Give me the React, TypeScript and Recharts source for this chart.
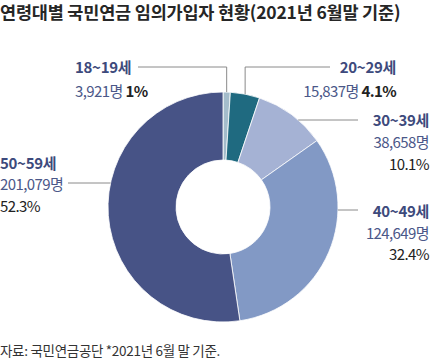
import React from 'react';
import { PieChart, Pie, Cell } from 'recharts';

// 연령대별 국민연금 임의가입자 (2021년 6월말)
const ageGroups = ['18~19세', '20~29세', '30~39세', '40~49세', '50~59세'];
const members = [3921, 15837, 38658, 124649, 201079];
const shares = ['1%', '4.1%', '10.1%', '32.4%', '52.3%'];

const COLORS = ['#a3bccb', '#1f6a80', '#a5b2d4', '#8299c5', '#475386'];
const FONT = '"Noto Sans CJK KR", "Noto Sans", sans-serif';
const RAD = Math.PI / 180;

const data = ageGroups.map((name, i) => ({ name, value: members[i], share: shares[i] }));

// label placement per slice (style only)
const LABELS = [
    { mode: 'elbow', lineY: 67, endX: 138, textX: 75, anchor: 'start', rows: [66, 90], inline: true },
    { mode: 'elbow', lineY: 67, endX: 330, textX: 396, anchor: 'end', rows: [66, 90], inline: true },
    { mode: 'flat', lineY: 120, endX: 358, textX: 429, anchor: 'end', rows: [119, 141, 163], inline: false },
    { mode: 'flat', lineY: 210, endX: 358, textX: 429, anchor: 'end', rows: [210, 232, 253], inline: false },
    { mode: 'flat', lineY: 183, endX: 68, textX: 0, anchor: 'start', rows: [162, 183, 205], inline: false },
];

const renderLabel = (props: any) => {
    const { cx, cy, midAngle, outerRadius, index, payload } = props;
    const cfg = LABELS[index];
    let pts: string;
    if (cfg.mode === 'elbow') {
        const x0 = cx + outerRadius * Math.cos(-midAngle * RAD);
        const y0 = cy + outerRadius * Math.sin(-midAngle * RAD);
        pts = `${x0},${y0} ${x0},${cfg.lineY} ${cfg.endX},${cfg.lineY}`;
    } else {
        const dy = cfg.lineY - cy;
        const dx = Math.sqrt(Math.max(outerRadius * outerRadius - dy * dy, 0));
        const x0 = cfg.endX > cx ? cx + dx : cx - dx;
        pts = `${x0},${cfg.lineY} ${cfg.endX},${cfg.lineY}`;
    }
    const count = `${members[index].toLocaleString('en-US')}명`;
    const common = {
        x: cfg.textX,
        textAnchor: cfg.anchor,
        dominantBaseline: 'central',
        fontFamily: FONT,
        fontSize: 15,
        letterSpacing: -0.6,
    } as any;
    return (
        <g key={`lbl-${index}`}>
            <polyline points={pts} fill="none" stroke="#8a8a8a" strokeWidth={1} />
            <text {...common} y={cfg.rows[0]} fill="#3d4a7c" fontWeight={700} letterSpacing={-0.3}>
                {payload.name}
            </text>
            {cfg.inline ? (
                <text {...common} y={cfg.rows[1]} fill="#4b5889">
                    {count} <tspan fill="#222" fontWeight={700}>{payload.share}</tspan>
                </text>
            ) : (
                <>
                    <text {...common} y={cfg.rows[1]} fill="#4b5889">{count}</text>
                    <text {...common} y={cfg.rows[2]} fill="#222">{payload.share}</text>
                </>
            )}
        </g>
    );
};

export default function App() {
    return (
        <div style={{ position: 'absolute', left: 0, top: 0, width: 430, height: 359, background: '#fff', fontFamily: FONT }}>
            <div style={{ position: 'absolute', left: 0, top: 1, fontSize: 17.5, fontWeight: 700, letterSpacing: -0.2, lineHeight: '22px', color: '#262626', whiteSpace: 'nowrap' }}>
                연령대별 국민연금 임의가입자 현황(2021년 6월말 기준)
            </div>
            <PieChart width={430} height={359} style={{ position: 'absolute', left: 0, top: 0 }}>
                <Pie
                    data={data}
                    dataKey="value"
                    nameKey="name"
                    cx={218}
                    cy={202}
                    innerRadius={47}
                    outerRadius={115}
                    startAngle={90}
                    endAngle={-270}
                    stroke="#fff"
                    strokeWidth={0.8}
                    label={renderLabel}
                    labelLine={false}
                    isAnimationActive={false}
                >
                    {data.map((entry, i) => (
                        <Cell key={`cell-${i}`} fill={COLORS[i % COLORS.length]} />
                    ))}
                </Pie>
            </PieChart>
            <div style={{ position: 'absolute', left: 0, top: 340, fontSize: 13.5, letterSpacing: -0.3, lineHeight: '20px', color: '#333', whiteSpace: 'nowrap' }}>
                자료: 국민연금공단 *2021년 6월 말 기준.
            </div>
        </div>
    );
}
